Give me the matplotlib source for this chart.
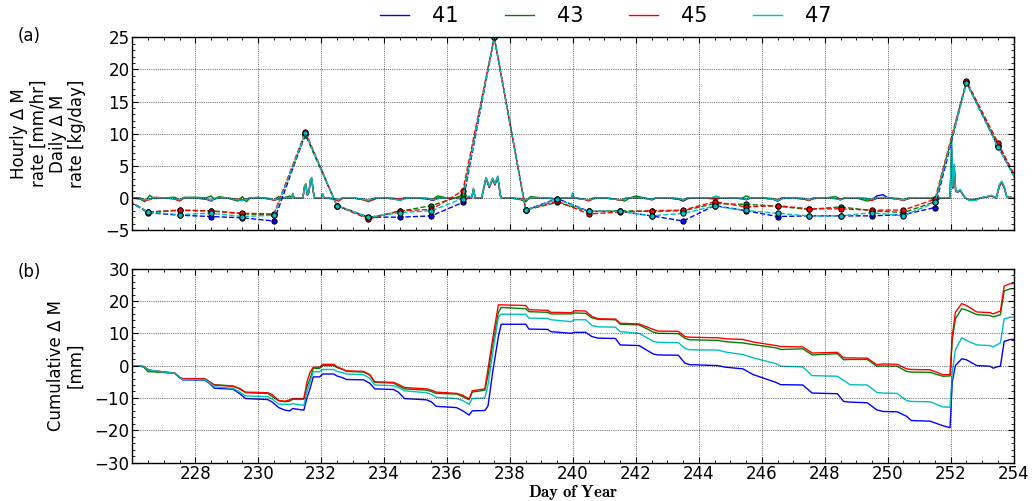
import matplotlib
matplotlib.use("Agg")
import matplotlib.pyplot as plt
from matplotlib.ticker import MultipleLocator, AutoMinorLocator

# ---------------- data ----------------
series_labels = ["41", "43", "45", "47"]
series_colors = ["b", "g", "r", "c"]

# Hourly mass-change rate [mm/hr] (key points)
hr_days = [226.00, 226.25, 226.40, 226.55, 226.70, 227.00, 227.35, 227.50, 227.65,
           228.00, 228.35, 228.50, 228.60, 228.75, 229.00, 229.35, 229.50, 229.62,
           229.75, 230.00, 230.35, 230.50, 230.65, 230.80, 231.00, 231.06, 231.10,
           231.14, 231.42, 231.47, 231.51, 231.56, 231.61, 231.66, 231.70, 231.75,
           231.79, 232.00, 232.05, 232.09, 232.40, 232.55, 232.70, 233.00, 233.35,
           233.50, 233.65, 233.80, 234.00, 234.35, 234.50, 234.65, 235.00, 235.40,
           235.55, 235.70, 236.00, 236.40, 236.55, 236.70, 236.78, 236.84, 236.89,
           237.10, 237.17, 237.24, 237.34, 237.45, 237.52, 237.61, 237.70, 237.75,
           238.00, 238.35, 238.50, 238.65, 239.00, 239.35, 239.50, 239.70, 239.96,
           239.99, 240.03, 240.35, 240.50, 240.65, 241.00, 241.35, 241.50, 241.65,
           241.80, 242.00, 242.35, 242.50, 242.65, 243.00, 243.35, 243.50, 243.65,
           244.00, 244.40, 244.55, 244.70, 245.00, 245.35, 245.50, 245.65, 246.00,
           246.35, 246.50, 246.65, 247.00, 247.35, 247.50, 247.65, 248.00, 248.35,
           248.50, 248.65, 249.00, 249.35, 249.50, 249.65, 249.85, 250.00, 250.35,
           250.50, 250.65, 251.00, 251.40, 251.55, 251.70, 251.98, 252.03, 252.07,
           252.11, 252.16, 252.24, 252.30, 252.37, 252.46, 252.60, 252.80, 252.95,
           253.30, 253.45, 253.55, 253.62, 253.70, 253.78, 254.00]
hr_41 = [0.0, -0.1, -0.3, -0.2, 0.0, 0.0, -0.1, -0.4, 0.0,
         0.0, -0.2, -0.5, -0.2, 0.0, 0.0, -0.3, -0.4, -0.2,
         0.0, 0.0, -0.1, -0.3, -0.2, 0.0, 0.0, 0.0, 0.5,
         0.0, 0.0, 1.6, 2.0, 0.4, 0.8, 2.6, 2.9, 0.9,
         0.0, 0.0, 0.5, 0.0, -0.1, -0.3, 0.0, 0.0, -0.2,
         -0.4, -0.1, 0.0, 0.0, -0.2, -0.4, -0.1, 0.0, -0.2,
         -0.4, -0.1, 0.0, -0.1, -0.3, 0.0, 0.0, 1.3, 0.0,
         0.0, 1.5, 3.0, 1.6, 2.9, 2.0, 3.2, 0.2, 0.0,
         0.0, -0.2, -0.4, 0.0, 0.0, -0.1, -0.2, 0.0, 0.0,
         0.6, 0.0, -0.2, -0.4, -0.1, 0.0, -0.2, -0.4, -0.1,
         0.0, 0.0, -0.1, -0.3, 0.0, 0.0, -0.2, -0.5, -0.1,
         0.0, -0.1, -0.2, 0.0, 0.0, -0.1, -0.3, 0.0, 0.0,
         -0.2, -0.5, -0.1, 0.0, -0.1, -0.3, 0.0, 0.0, -0.1,
         -0.3, 0.0, 0.0, -0.1, -0.3, 0.3, 0.5, 0.0, -0.2,
         -0.4, -0.1, 0.0, -0.1, -0.3, 0.0, 0.0, 7.0, 1.5,
         4.8, 1.0, 0.9, 1.2, 0.6, 0.0, -0.4, -0.3, 0.0,
         0.3, 0.0, 1.8, 2.4, 1.6, 0.2, 0.0]
hr_43 = [0.0, -0.2, -0.6, 0.4, -0.1, 0.0, 0.1, -0.3, 0.1,
         0.1, 0.0, 0.3, -0.2, 0.2, 0.0, -0.5, 0.2, -0.6,
         0.0, 0.1, -0.2, -0.3, 0.2, 0.0, 0.3, 0.0, 0.6,
         0.0, 0.0, 1.7, 2.1, 0.5, 0.9, 2.7, 3.0, 1.0,
         0.0, 0.0, 0.6, 0.0, -0.1, -0.4, 0.0, 0.0, -0.3,
         -0.5, -0.2, 0.0, 0.0, -0.1, -0.3, 0.0, 0.0, -0.1,
         -0.2, 0.3, 0.0, 0.0, -0.2, 0.1, 0.0, 1.4, 0.0,
         0.0, 1.6, 3.1, 1.7, 3.0, 2.1, 3.3, 0.2, 0.0,
         0.0, -0.3, -0.6, 0.2, 0.0, -0.1, -0.3, 0.0, 0.0,
         0.7, 0.0, -0.2, -0.3, 0.0, 0.0, -0.2, -0.3, -0.5,
         0.0, 0.3, -0.1, -0.2, 0.0, 0.0, -0.1, -0.4, 0.0,
         0.0, 0.0, 0.2, 0.0, 0.0, -0.1, 0.3, 0.0, 0.0,
         -0.1, -0.3, 0.0, 0.0, -0.2, -0.4, -0.1, 0.0, 0.2,
         -0.2, 0.0, 0.0, -0.5, -0.3, 0.0, 0.0, 0.0, -0.1,
         -0.3, 0.0, 0.0, 0.0, 0.2, 0.0, 0.0, 7.5, 1.6,
         5.0, 1.0, 1.0, 1.2, 0.7, 0.0, -0.3, -0.2, 0.0,
         0.3, 0.0, 1.9, 2.5, 1.7, 0.2, 0.0]
hr_45 = [0.0, 0.0, -0.4, -0.3, 0.1, 0.0, -0.2, -0.5, 0.0,
         0.0, -0.2, -0.4, -0.1, 0.0, 0.0, -0.2, -0.3, -0.2,
         0.0, 0.0, -0.1, -0.4, -0.1, 0.0, 0.0, 0.0, 0.7,
         0.0, 0.0, 1.8, 2.2, 0.5, 0.9, 2.8, 3.1, 1.0,
         0.0, 0.0, 0.6, 0.0, -0.2, -0.5, 0.0, 0.0, -0.3,
         -0.6, -0.3, 0.0, 0.0, -0.1, -0.2, 0.0, 0.0, -0.1,
         -0.3, 0.0, 0.0, -0.1, -0.2, 0.0, 0.0, 1.4, 0.0,
         0.0, 1.7, 3.1, 1.7, 3.0, 2.1, 3.3, 0.2, 0.0,
         0.0, -0.1, -0.3, 0.0, 0.0, -0.1, -0.2, 0.0, 0.0,
         0.6, 0.0, -0.2, -0.5, -0.1, 0.0, -0.2, -0.4, -0.1,
         0.0, 0.0, -0.1, -0.3, 0.0, 0.0, -0.2, -0.3, 0.0,
         0.0, -0.1, -0.1, 0.0, 0.0, -0.1, -0.2, 0.0, 0.0,
         -0.2, -0.3, 0.0, 0.0, -0.2, -0.4, -0.1, 0.0, -0.1,
         -0.2, 0.0, 0.0, -0.2, -0.4, -0.1, 0.0, 0.0, -0.2,
         -0.4, -0.1, 0.0, -0.1, -0.2, 0.0, 0.0, 8.0, 1.6,
         5.0, 1.0, 1.0, 1.2, 0.7, 0.0, -0.4, -0.3, 0.0,
         0.3, 0.0, 2.0, 2.5, 1.7, 0.2, 0.0]
hr_47 = [0.0, -0.1, -0.3, -0.2, 0.0, 0.0, -0.1, -0.3, 0.0,
         0.0, -0.1, -0.4, -0.1, 0.0, 0.0, -0.3, -0.4, -0.2,
         0.0, 0.0, -0.1, -0.3, -0.1, 0.0, 0.0, 0.0, 0.7,
         0.0, 0.0, 1.8, 2.2, 0.5, 0.9, 2.9, 3.2, 1.0,
         0.0, 0.0, 0.6, 0.0, -0.1, -0.3, 0.0, 0.0, -0.2,
         -0.4, -0.1, 0.0, 0.0, -0.2, -0.4, -0.1, 0.0, -0.1,
         -0.3, -0.1, 0.0, 0.0, -0.1, 0.3, 0.0, 1.5, 0.0,
         0.0, 1.7, 3.2, 1.8, 3.1, 2.2, 3.4, 0.2, 0.0,
         0.0, -0.2, -0.3, 0.0, 0.0, -0.1, -0.2, 0.0, 0.0,
         0.8, 0.0, -0.2, -0.3, -0.1, 0.0, -0.2, -0.3, -0.1,
         0.0, 0.0, -0.1, -0.2, 0.0, 0.0, -0.1, -0.3, 0.0,
         0.0, 0.0, 0.3, 0.0, 0.0, -0.1, -0.2, 0.0, 0.0,
         -0.2, -0.4, -0.1, 0.0, -0.1, -0.3, 0.0, 0.0, -0.1,
         -0.3, 0.0, 0.0, -0.1, -0.2, 0.0, 0.1, 0.0, -0.2,
         -0.3, 0.0, 0.0, 0.0, -0.1, 0.0, 0.0, 9.5, 1.8,
         5.3, 1.1, 1.0, 1.3, 0.7, 0.0, -0.4, -0.4, 0.0,
         0.4, 0.0, 2.1, 2.6, 1.8, 0.2, 0.0]

# Daily mass-change rate [kg/day] (one value per day, at noon)
daily_days = [225.5, 226.5, 227.5, 228.5, 229.5, 230.5, 231.5, 232.5, 233.5, 234.5,
              235.5, 236.5, 237.5, 238.5, 239.5, 240.5, 241.5, 242.5, 243.5, 244.5,
              245.5, 246.5, 247.5, 248.5, 249.5, 250.5, 251.5, 252.5, 253.5, 254.5]
daily_41 = [0.6, -2.3, -2.7, -2.9, -3.1, -3.6, 10.0, -1.2, -3.0, -3.0,
            -2.8, -0.7, 25.0, -1.9, -0.1, -2.1, -2.1, -2.8, -3.6, -1.2,
            -2.0, -2.9, -2.8, -2.8, -2.8, -2.6, -1.5, 18.0, 8.0, -1.0]
daily_43 = [0.6, -2.2, -1.9, -2.0, -2.5, -2.6, 9.8, -1.2, -3.1, -2.1,
            -1.2, 0.4, 25.0, -1.9, -0.7, -2.1, -2.0, -2.1, -2.0, -0.9,
            -1.0, -1.3, -1.8, -1.4, -2.0, -2.3, -0.6, 18.0, 8.3, -1.0]
daily_45 = [0.6, -2.2, -1.95, -2.05, -2.4, -2.5, 10.3, -1.2, -3.3, -2.0,
            -1.8, 1.1, 25.0, -1.85, -0.5, -2.5, -2.2, -2.0, -1.9, -0.6,
            -1.4, -1.2, -1.7, -1.7, -1.9, -1.9, -0.2, 18.2, 8.6, -1.0]
daily_47 = [0.6, -2.2, -2.6, -2.4, -2.9, -2.7, 10.1, -1.2, -3.0, -2.3,
            -2.0, -0.1, 25.0, -1.9, -0.2, -2.1, -2.1, -2.8, -2.4, -1.3,
            -1.95, -2.4, -2.8, -2.8, -2.3, -2.8, -0.7, 17.9, 7.9, -1.0]

# Cumulative mass change [mm]
cum_days = [226.00, 226.35, 226.50, 226.60, 227.35, 227.50, 227.60, 228.30, 228.45,
            228.60, 229.20, 229.40, 229.60, 230.30, 230.45, 230.65, 230.85, 231.00,
            231.10, 231.45, 231.55, 231.65, 231.75, 231.95, 232.05, 232.40, 232.50,
            232.70, 232.80, 233.35, 233.55, 233.70, 234.30, 234.45, 234.65, 235.35,
            235.50, 235.65, 236.30, 236.50, 236.70, 236.80, 237.20, 237.30, 237.45,
            237.63, 237.72, 238.50, 238.60, 239.20, 239.30, 239.95, 240.05, 240.40,
            240.60, 240.80, 241.35, 241.50, 242.10, 242.55, 242.70, 243.35, 243.55,
            243.70, 244.60, 244.85, 245.40, 245.73, 246.45, 246.60, 247.30, 247.60,
            248.40, 248.60, 248.80, 249.35, 249.65, 249.85, 250.30, 250.60, 250.75,
            251.35, 251.75, 251.98, 252.05, 252.15, 252.35, 252.50, 252.83, 253.25,
            253.35, 253.50, 253.58, 253.70, 253.90, 254.00]
cum_41 = [0.0, -0.3, -1.2, -1.5, -2.4, -3.7, -4.4, -4.5, -5.5,
          -7.0, -7.3, -8.6, -10.2, -10.5, -11.3, -13.0, -13.8, -14.0,
          -13.3, -13.8, -10.0, -7.0, -3.5, -3.5, -2.6, -2.6, -3.2,
          -3.8, -4.3, -4.4, -5.5, -7.2, -7.4, -8.2, -10.2, -10.6,
          -11.2, -12.6, -13.0, -14.0, -15.3, -14.0, -13.9, -12.5, -2.0,
          9.0, 12.8, 12.8, 11.3, 11.2, 10.5, 10.0, 10.3, 10.3,
          9.0, 8.5, 8.4, 6.4, 6.2, 3.6, 3.3, 3.2, 0.8,
          0.3, 0.0, -0.5, -1.0, -2.8, -5.2, -5.9, -6.0, -8.5,
          -8.7, -11.1, -11.3, -11.5, -13.7, -14.2, -14.3, -15.7, -17.0,
          -17.2, -18.6, -19.2, -5.0, 0.0, 2.1, 1.8, 0.0, -0.2,
          -0.8, -0.3, -0.2, 7.5, 8.1, 8.1]
cum_43 = [0.0, -0.3, -1.9, -1.9, -2.4, -3.7, -4.1, -4.0, -5.0,
          -5.9, -6.3, -7.2, -8.4, -8.6, -9.6, -10.9, -11.2, -11.0,
          -10.4, -10.4, -6.5, -4.0, -0.8, -0.9, 0.0, 0.0, -0.6,
          -1.2, -1.8, -2.0, -3.0, -5.2, -5.4, -6.2, -7.2, -7.6,
          -8.0, -8.6, -8.8, -9.6, -10.6, -8.2, -7.6, -3.0, 6.5,
          16.5, 18.0, 17.6, 16.7, 16.5, 16.0, 16.0, 16.3, 16.2,
          14.8, 14.3, 14.2, 12.8, 12.6, 10.4, 10.0, 9.9, 8.5,
          8.0, 7.8, 7.4, 7.0, 6.5, 5.5, 5.0, 5.2, 3.3,
          3.7, 1.8, 1.9, 1.9, -0.2, -0.1, -0.2, -1.8, -2.0,
          -2.1, -3.3, -3.2, 8.0, 14.5, 17.6, 17.2, 15.8, 15.5,
          15.1, 15.5, 15.8, 23.1, 23.8, 23.8]
cum_45 = [0.0, -0.3, -1.2, -1.5, -2.3, -3.6, -4.0, -4.1, -5.0,
          -6.0, -6.4, -7.0, -8.2, -8.4, -9.0, -10.8, -11.0, -10.6,
          -10.2, -10.2, -5.0, -2.0, -0.5, -0.5, 0.4, 0.4, -0.4,
          -1.2, -1.6, -1.8, -2.8, -5.0, -5.2, -5.8, -6.8, -7.2,
          -7.6, -8.2, -8.6, -9.2, -10.4, -7.8, -7.2, -1.0, 8.3,
          18.8, 18.8, 18.6, 17.3, 17.1, 16.5, 16.4, 17.0, 16.9,
          15.2, 14.5, 14.4, 13.1, 12.9, 11.2, 10.7, 10.6, 9.0,
          8.8, 8.6, 8.3, 8.1, 7.3, 6.2, 5.9, 5.8, 3.9,
          4.1, 2.4, 2.4, 2.3, 0.3, 0.5, 0.4, -1.0, -1.2,
          -1.3, -2.8, -2.8, 9.0, 16.5, 19.2, 18.6, 16.6, 16.4,
          16.0, 16.6, 16.9, 24.6, 25.4, 25.4]
cum_47 = [0.0, -0.3, -1.2, -1.5, -2.4, -3.8, -4.3, -4.4, -5.3,
          -6.6, -7.0, -8.1, -9.4, -9.6, -10.4, -11.9, -12.0, -12.0,
          -11.8, -12.3, -8.0, -5.0, -1.9, -1.9, -1.2, -1.2, -1.8,
          -2.2, -2.6, -2.8, -4.0, -6.0, -6.2, -6.8, -7.8, -8.4,
          -8.9, -9.8, -10.2, -10.8, -12.0, -10.2, -10.0, -6.0, 4.0,
          15.0, 15.9, 15.9, 14.7, 14.6, 14.2, 13.6, 14.2, 14.2,
          12.4, 12.0, 11.9, 10.5, 10.0, 7.5, 7.2, 7.1, 5.4,
          4.9, 4.8, 4.2, 3.4, 2.4, 0.6, -0.2, -0.4, -3.1,
          -3.3, -4.6, -5.9, -6.0, -8.3, -8.5, -8.6, -10.8, -11.1,
          -11.2, -12.8, -12.9, -2.0, 4.9, 8.6, 7.8, 6.4, 6.2,
          5.8, 6.6, 7.0, 14.5, 15.0, 15.0]

hourly = [hr_41, hr_43, hr_45, hr_47]
daily = [daily_41, daily_43, daily_45, daily_47]
cumul = [cum_41, cum_43, cum_45, cum_47]

x_ticks = [228, 230, 232, 234, 236, 238, 240, 242, 244, 246, 248, 250, 252, 254]
top_yticks = [-5, 0, 5, 10, 15, 20, 25]
bot_yticks = [-30, -20, -10, 0, 10, 20, 30]

# ---------------- style ----------------
plt.rcParams.update({
    "font.family": ["DejaVu Sans"],
    "font.size": 12,
    "mathtext.fontset": "cm",
    "xtick.direction": "in",
    "ytick.direction": "in",
    "xtick.top": True,
    "ytick.right": True,
    "xtick.major.size": 4,
    "ytick.major.size": 4,
    "xtick.minor.size": 2,
    "ytick.minor.size": 2,
    "xtick.major.pad": 2,
    "ytick.major.pad": 2,
    "axes.linewidth": 1.0,
    "grid.color": "k",
    "grid.linestyle": ":",
    "grid.linewidth": 0.5,
})

fig = plt.figure(figsize=(10.32, 5.01), dpi=100, facecolor="white")
ax1 = fig.add_axes([0.1282, 0.5409, 0.8540, 0.3847])
ax2 = fig.add_axes([0.1282, 0.0768, 0.8540, 0.3869])

handles = []
for vals, col, lab in zip(hourly, series_colors, series_labels):
    ln, = ax1.plot(hr_days, vals, "-", color=col, lw=1.0, label=lab)
    handles.append(ln)
for vals, col in zip(daily, series_colors):
    ax1.plot(daily_days, vals, "--", color=col, lw=1.0, marker="o", ms=3.8,
             mfc=col, mec="k", mew=0.7)
for vals, col in zip(cumul, series_colors):
    ax2.plot(cum_days, vals, "-", color=col, lw=1.0)

for ax in (ax1, ax2):
    ax.set_xlim(226, 254)
    ax.set_xticks(x_ticks)
    ax.xaxis.set_minor_locator(MultipleLocator(0.5))
    ax.yaxis.set_minor_locator(AutoMinorLocator())
    ax.grid(True, which="major")
    ax.set_axisbelow(False)

ax1.set_ylim(-5, 25)
ax1.set_yticks(top_yticks)
ax1.tick_params(labelbottom=False)
ax2.set_ylim(-30, 30)
ax2.set_yticks(bot_yticks)

ax1.set_ylabel("Hourly \u0394 M\nrate [mm/hr]\nDaily \u0394 M\nrate [kg/day]",
               fontsize=12, linespacing=1.1)
ax2.set_ylabel("Cumulative \u0394 M\n[mm]", fontsize=12, linespacing=1.15)
ax1.yaxis.set_label_coords(-0.052, 0.5)
ax2.yaxis.set_label_coords(-0.054, 0.5)

ax2.set_xlabel(r"$\mathbf{Day\ of\ Year}$", fontsize=12)
ax2.xaxis.set_label_coords(0.5, -0.104)

fig.text(18 / 1032, 1 - 36 / 501, "(a)", fontsize=12, ha="left", va="center")
fig.text(18 / 1032, 1 - 272 / 501, "(b)", fontsize=12, ha="left", va="center")

fig.legend(handles=handles, labels=series_labels, loc="center",
           bbox_to_anchor=(606 / 1032, 1 - 16 / 501), ncol=4, frameon=False,
           fontsize=15, handlelength=1.4, handletextpad=1.1, columnspacing=2.2)

fig.savefig("out.png", dpi=100, facecolor="white")
